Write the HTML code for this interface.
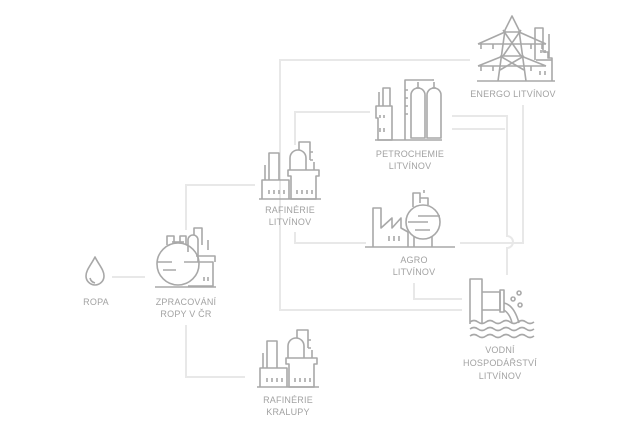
<!DOCTYPE html>
<html><head><meta charset="utf-8"><style>
html,body{margin:0;padding:0;background:#fff;}
svg{display:block}
text{font-family:"Liberation Sans",sans-serif;font-size:9px;fill:#a2a2a2;text-anchor:middle;letter-spacing:0.2px}
.c{stroke:#e8e8e8;stroke-width:2;fill:none}
.i{stroke:#a8a8a8;stroke-width:1.6;fill:none;stroke-linejoin:round}
</style></head><body>
<svg width="640" height="427" viewBox="0 0 640 427">
<!-- connectors -->
<g class="c">
<path d="M112 277H145"/>
<path d="M186 230V185H255"/>
<path d="M186 325V377H245"/>
<path d="M470 60H280V310H462"/>
<path d="M295 145V112H370"/>
<path d="M295 232V243H366"/>
<path d="M452 116H507V236a4 4 0 0 1 0 12V275"/>
<path d="M452 129H505"/>
<path d="M523 105V243H460"/>
<path d="M414 283V299H462"/>
</g>
<!-- ROPA drop -->
<g class="i"><path d="M95 257C91 265 86 270 86 276a9 9 0 0 0 18 0c0-6-5-11-9-19z"/><path d="M90 278q1 4 5 5"/></g>
<text x="96" y="305">ROPA</text>
<!-- Zpracovani -->
<g class="i">
<circle cx="178" cy="264" r="21"/><path d="M157 262H172M184 262H199M163 270H176"/>
<path d="M167 245V236H174V242M180 242V236H186V245"/><path d="M172 242h12"/>
<path d="M188 252V240a5 5 0 0 1 10 0V262"/><path d="M194 235V228H202V245"/>
<path d="M198 262H213V286H188"/><path d="M196 256H215V262"/><path d="M208 250V240"/>
<path d="M204 277V281M208 277V281"/><path d="M155 287H216"/>
</g>
<text x="186" y="305">ZPRACOVÁNÍ</text><text x="186" y="317">ROPY V ČR</text>
<!-- refinery symbol -->
<defs><g id="ref" class="i">
<path d="M0 61H62"/><path d="M3 61V42H30V61"/><path d="M10 42V15H20V42"/><path d="M6 42V27"/>
<path d="M29 32H60V38H57V61H32V38H29Z"/><path d="M31 32V20a8 8 0 0 1 16 0V32"/>
<path d="M40 12V4H51V22M51 14H54M51 22H54"/><path d="M55 24V32"/>
<path d="M10 52V56M15 52V56M20 52V56M25 52V56M38 52V56M43 52V56M48 52V56M53 52V56"/>
</g></defs>
<use href="#ref" x="259" y="138"/>
<text x="290" y="213">RAFINÉRIE</text><text x="290" y="225">LITVÍNOV</text>
<use href="#ref" x="257" y="326"/>
<text x="288" y="403">RAFINÉRIE</text><text x="288" y="415">KRALUPY</text>
<!-- Petrochemie -->
<g class="i">
<path d="M376 106H392V140H378V118H376Z"/><path d="M383 106V88H390V106"/><path d="M379 106V92"/>
<path d="M380 128V132M384 128V132M380 115V118M384 115V118"/>
<path d="M405 140V80H432"/><path d="M405 90H408M405 98H408M405 106H408M405 114H408"/>
<path d="M411 138V95a7 7 0 0 1 14 0V138Z"/><path d="M427 138V95a7 7 0 0 1 14 0V138Z"/>
<path d="M418 88V82M434 88V82M416 88h4M432 88h4"/><path d="M432 80H434"/><path d="M375 140H442"/>
</g>
<text x="410" y="157">PETROCHEMIE</text><text x="410" y="169">LITVÍNOV</text>
<!-- Energo -->
<g class="i">
<path d="M477 81H555"/><path d="M498 81L505 30L512 16L519 30L526 81"/>
<path d="M502 56H522M505 32H519M503 56L521 30M521 56L503 30M500 70L524 56M524 70L500 56"/>
<path d="M478 44L505 32M546 44L519 32M478 44H546M478 66L503 56M546 66L521 56M478 66H546"/>
<path d="M481 44V49M493 44V49M531 44V49M542 44V49M481 66V71M493 66V71M531 66V71"/>
<path d="M535 60V28H543V52H548V58H552V81"/><path d="M549 58V34"/><path d="M536 60H552"/>
<path d="M540 71V75M545 71V75M541 50V53M545 50V53"/>
</g>
<text x="513" y="97">ENERGO LITVÍNOV</text>
<!-- Agro -->
<g class="i">
<path d="M365 247H455"/><path d="M373 247V208H381V228L392 218V228L401 218V228L408 232"/><path d="M408 247V232"/>
<circle cx="423" cy="222" r="17"/><path d="M408 222H428M418 216H440M415 230H430"/>
<path d="M413 207V193H420V203M420 198H428V205M424 193V190"/><path d="M414 237V247M432 237V247"/>
<path d="M389 236V241M394 236V241M399 236V241"/>
</g>
<text x="414" y="263">AGRO</text><text x="414" y="275">LITVÍNOV</text>
<!-- Vodni -->
<g class="i">
<path d="M470 324V279H482V324"/><path d="M482 292H500V310H482"/><path d="M500 290V312H504V290Z"/>
<path d="M504 303q10 2 15 20M504 310q6 4 8 13"/>
<path d="M513 297a2 2 0 1 0 0.1 0M519 291a2 2 0 1 0 0.1 0M520 303a2 2 0 1 0 0.1 0"/>
<path d="M470 322q4 -3 8 0t8 0t8 0t8 0t8 0t8 0t8 0t8 0"/>
<path d="M470 329q4 -3 8 0t8 0t8 0t8 0t8 0t8 0t8 0t8 0"/>
<path d="M470 336q4 -3 8 0t8 0t8 0t8 0t8 0t8 0t8 0t8 0"/>
</g>
<text x="500" y="353">VODNÍ</text><text x="500" y="366">HOSPODÁŘSTVÍ</text><text x="500" y="379">LITVÍNOV</text>
</svg>
</body></html>
